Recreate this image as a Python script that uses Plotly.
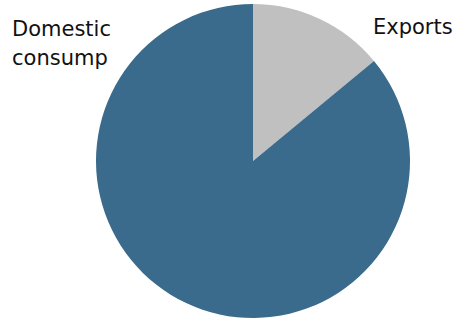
import plotly.graph_objects as go

# Share of output by destination
labels = ["Exports", "Domestic consump"]
values = [14, 86]
colors = ["#c0c0c0", "#3a6b8c"]

W, H = 460, 320
LINE_GAP = 29  # px between wrapped label lines

fig = go.Figure(
    go.Pie(
        labels=labels,
        values=values,
        sort=False,
        direction="clockwise",
        rotation=0,
        marker=dict(colors=colors, line=dict(width=0)),
        textinfo="none",
        hoverinfo="label+percent",
        showlegend=False,
        domain=dict(x=[96 / W, 410 / W], y=[2 / H, 316 / H]),
    )
)

# Slice names placed beside the pie, one word per line
label_pos = {
    "Exports": (372, 14),
    "Domestic consump": (11, 16),
}
for name in labels:
    px, py = label_pos[name]
    for i, word in enumerate(name.split(" ")):
        fig.add_annotation(
            text=word,
            x=px / W, y=1 - (py + i * LINE_GAP) / H,
            xref="paper", yref="paper",
            xanchor="left", yanchor="top",
            align="left",
            showarrow=False,
            borderpad=0,
            font=dict(family="DejaVu Sans", size=21, color="#111111"),
        )

fig.update_layout(
    width=W, height=H,
    margin=dict(l=0, r=0, t=0, b=0),
    paper_bgcolor="white",
    plot_bgcolor="white",
)

fig.write_html("out.html")
